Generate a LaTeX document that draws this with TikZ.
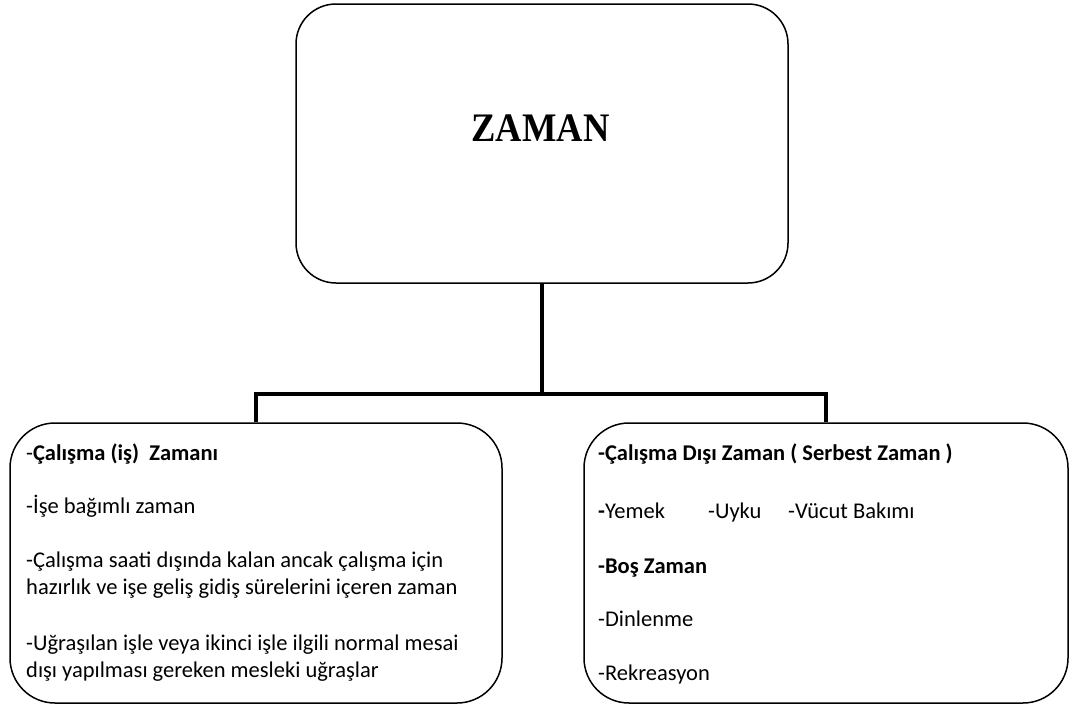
\documentclass[tikz,border=0pt]{standalone}
\usepackage{fontspec}
\usepackage{graphicx}
\setmainfont{Carlito}
\newfontfamily\zamanfont{Liberation Serif}
\begin{document}
\begin{tikzpicture}[x=1pt,y=-1pt,
  rbox/.style={draw, line width=1.5pt, rounded corners=40pt, inner sep=0pt},
  cbox/.style={rbox, rounded corners=45pt, minimum height=280pt},
  conn/.style={line width=4.5pt, line join=miter},
  txt/.style={anchor=base west, inner sep=0pt, font=\fontsize{22.5}{27}\selectfont},
]
\useasboundingbox (0,0) rectangle (1070,704);
% boxes
\node[rbox, minimum width=492pt, minimum height=279pt] (top) at (542,143.5) {};
\node[cbox, minimum width=492pt] (left) at (256,563) {};
\node[cbox, minimum width=484pt] (right) at (826,563) {};
\node[inner sep=0pt, font=\zamanfont\bfseries\fontsize{36.5}{40}\selectfont] (zt) at (540.5,128.5) {\scalebox{1}[1.11]{ZAMAN}};
% connectors
\coordinate (bus) at (542,394);
\draw[conn] (top.south) -- (bus);
\draw[conn] (left.north) |- (bus) -| (right.north);
% left text
\node[txt] (l1) at (26,460) {-\textbf{Çalışma (iş)\ \ Zamanı}};
\node[txt] (l2) at (26,513) {-İşe bağımlı zaman};
\node[txt] (l3) at (26,567) {-Çalışma saati dışında kalan ancak çalışma için};
\node[txt] (l4) at (26,594) {hazırlık ve işe geliş gidiş sürelerini içeren zaman};
\node[txt] (l5) at (26,650) {-Uğraşılan işle veya ikinci işle ilgili normal mesai};
\node[txt] (l6) at (26,677) {dışı yapılması gereken mesleki uğraşlar};
% right text
\node[txt] (r1) at (598,460) {\textbf{-Çalışma Dışı Zaman ( Serbest Zaman )}};
\node[txt] (r2a) at (598,518) {\textbf{-}Yemek};
\node[txt] (r2b) at (708,518) {-Uyku};
\node[txt] (r2c) at (788,518) {-Vücut Bakımı};
\node[txt] (r3) at (598,573) {\textbf{-Boş Zaman}};
\node[txt] (r4) at (598,626) {-Dinlenme};
\node[txt] (r5) at (598,680) {-Rekreasyon};
\end{tikzpicture}
\end{document}
